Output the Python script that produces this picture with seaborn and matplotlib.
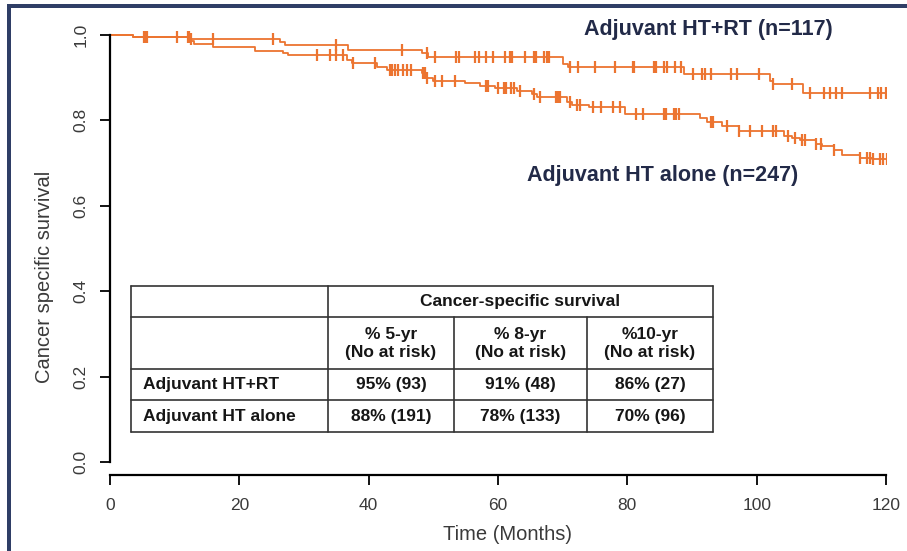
import numpy as np
import pandas as pd
import matplotlib
matplotlib.use("Agg")
import matplotlib.pyplot as plt
from matplotlib.patches import Rectangle
from matplotlib.lines import Line2D
import seaborn as sns

# ---------------- data ----------------
rt_times = [0, 3.5, 12.4, 26.3, 27.0, 36.8, 48.2, 49.2, 70.0, 70.8, 88.7, 102.0, 102.6, 107.2, 120]
rt_surv = [1.0, 0.995, 0.990, 0.983, 0.976, 0.966, 0.957, 0.948, 0.932, 0.924, 0.909, 0.893, 0.886, 0.863, 0.863]
rt_censor = [5.2, 5.5, 5.7, 12.2, 12.5, 15.9, 25.2, 35.0, 45.1, 49.0, 50.3, 53.5, 53.9, 56.5, 57.0,
             58.2, 59.3, 61.1, 61.8, 62.2, 64.2, 65.5, 65.9, 67.1, 67.5, 67.9, 71.1, 72.4, 75.0,
             78.1, 80.8, 81.1, 84.2, 84.5, 85.6, 86.1, 87.4, 88.3, 90.2, 91.5, 92.0, 93.0, 96.1,
             96.9, 100.3, 102.6, 105.5, 108.3, 110.4, 111.4, 112.2, 113.2, 117.5, 118.8, 119.3, 120.0]

ht_times = [0, 3.6, 12.4, 13.0, 16.0, 22.4, 26.8, 27.5, 36.6, 37.4, 41.3, 42.8, 48.2, 49.0, 50.0,
            54.9, 57.2, 59.5, 62.9, 65.2, 66.0, 70.6, 71.4, 74.0, 79.6, 91.3, 92.3, 94.6, 97.2,
            104.2, 105.5, 106.7, 109.1, 110.1, 111.9, 113.2, 116.0, 117.8, 120.3]
ht_surv = [1.0, 0.996, 0.985, 0.979, 0.971, 0.962, 0.957, 0.952, 0.941, 0.935, 0.926, 0.918, 0.910,
           0.899, 0.893, 0.887, 0.881, 0.875, 0.868, 0.861, 0.854, 0.844, 0.837, 0.831, 0.816,
           0.805, 0.797, 0.787, 0.775, 0.763, 0.758, 0.753, 0.744, 0.739, 0.731, 0.719, 0.713,
           0.709, 0.709]
ht_censor = [10.3, 12.1, 32.0, 34.0, 35.0, 36.1, 37.6, 41.0, 43.3, 43.6, 44.0, 44.6, 45.3, 45.9,
             46.6, 48.4, 48.7, 49.0, 50.3, 51.3, 53.3, 58.2, 58.5, 60.0, 60.9, 61.3, 62.0, 62.4,
             63.4, 65.5, 66.5, 69.0, 69.3, 69.6, 71.1, 72.2, 72.7, 74.7, 76.0, 77.8, 78.8, 81.4,
             82.4, 85.6, 86.0, 87.2, 87.6, 88.0, 93.0, 93.3, 95.4, 97.2, 99.0, 100.8, 102.5,
             103.0, 104.9, 106.0, 107.0, 107.4, 109.2, 110.0, 111.9, 116.0, 117.0, 117.5, 118.0,
             119.0, 119.5, 120.1]

group_labels = ["Adjuvant HT+RT (n=117)", "Adjuvant HT alone (n=247)"]
x_ticks = [0, 20, 40, 60, 80, 100, 120]
y_ticks = [0.0, 0.2, 0.4, 0.6, 0.8, 1.0]
x_label = "Time (Months)"
y_label = "Cancer specific survival"

table_header = "Cancer-specific survival"
table_cols = ["% 5-yr\n(No at risk)", "% 8-yr\n(No at risk)", "%10-yr\n(No at risk)"]
table_rows = ["Adjuvant HT+RT", "Adjuvant HT alone"]
table_vals = [["95% (93)", "91% (48)", "86% (27)"],
              ["88% (191)", "78% (133)", "70% (96)"]]

# ---------------- style ----------------
sns.set_style("white")
plt.rcParams["font.family"] = ["Liberation Sans", "DejaVu Sans"]

W, H = 907, 551
fig = plt.figure(figsize=(W / 100, H / 100), dpi=100)
ORANGE = "#EC7430"
NAVY = "#222A48"
TXT = "#3A3A3A"

ymin, ymax = -0.03, 1.04
ppu = 427.0
top_px = 35 - (ymax - 1.0) * ppu
bot_px = 462 + (0 - ymin) * ppu
ax = fig.add_axes([110 / W, (H - bot_px) / H, 776 / W, (bot_px - top_px) / H])

df = pd.concat([
    pd.DataFrame({"time": rt_times, "surv": rt_surv, "group": group_labels[0]}),
    pd.DataFrame({"time": ht_times, "surv": ht_surv, "group": group_labels[1]}),
])
sns.lineplot(data=df, x="time", y="surv", hue="group", palette=[ORANGE, ORANGE],
             drawstyle="steps-post", linewidth=1.3, legend=False, ax=ax, estimator=None)


def step_value(times, surv, t):
    idx = np.searchsorted(np.asarray(times), np.asarray(t), side="right") - 1
    return np.asarray(surv)[idx]


for times, surv, cens in [(rt_times, rt_surv, rt_censor), (ht_times, ht_surv, ht_censor)]:
    ax.plot(cens, step_value(times, surv, cens), linestyle="none", marker="|",
            markersize=8, markeredgewidth=1.6, color=ORANGE)

ax.set_xlim(0, 120)
ax.set_ylim(ymin, ymax)
ax.set_xticks(x_ticks)
ax.set_yticks(y_ticks)
ax.set_xticklabels([str(v) for v in x_ticks], fontsize=12.5, color=TXT)
ax.set_yticklabels([f"{v:.1f}" for v in y_ticks], fontsize=12.5, color=TXT,
                   rotation=90, va="center")
for s in ["top", "right"]:
    ax.spines[s].set_visible(False)
ax.spines["left"].set_bounds(0, 1)
ax.spines["bottom"].set_bounds(0, 120)
for s in ["left", "bottom"]:
    ax.spines[s].set_linewidth(1.6)
    ax.spines[s].set_color("black")
ax.tick_params(axis="both", direction="out", length=7.5, width=1.3, color="black",
               left=True, bottom=True)
ax.tick_params(axis="x", pad=9)
ax.tick_params(axis="y", pad=8)
ax.set_xlabel(x_label, fontsize=14.5, color=TXT)
ax.set_ylabel(y_label, fontsize=14.5, color=TXT)
ax.xaxis.set_label_coords(0.512, (bot_px - 535) / (bot_px - top_px))
ax.xaxis.label.set_va("center")
ax.yaxis.set_label_coords((45 - 110) / 776, (bot_px - 277) / (bot_px - top_px))
ax.yaxis.label.set_va("center")

# group annotations
ax.text(92.6, 1.012, group_labels[0], ha="center", va="center",
        fontsize=15.5, fontweight="bold", color=NAVY)
ax.text(85.5, 0.672, group_labels[1], ha="center", va="center",
        fontsize=15.5, fontweight="bold", color=NAVY)


# ---------------- table (pixel layout) ----------------
def fx(px):
    return px / W


def fy(py):
    return 1 - py / H


xL, xR = 131, 713
xc = [131, 328, 454, 587, 713]
yr = [286, 317, 369, 400, 432]
lw = 1.2
lines = [
    (xL, xR, yr[0], yr[0]), (xL, xR, yr[1], yr[1]), (xL, xR, yr[2], yr[2]),
    (xL, xR, yr[3], yr[3]), (xL, xR, yr[4], yr[4]),
    (xc[0], xc[0], yr[0], yr[4]), (xc[1], xc[1], yr[0], yr[4]),
    (xc[2], xc[2], yr[1], yr[4]), (xc[3], xc[3], yr[1], yr[4]),
    (xc[4], xc[4], yr[0], yr[4]),
]
for x0, x1, y0, y1 in lines:
    fig.add_artist(Line2D([fx(x0), fx(x1)], [fy(y0), fy(y1)], color="#333333", lw=lw))

tfs = 12.5
TCOL = "#161616"
fig.text(fx((xc[1] + xc[4]) / 2), fy((yr[0] + yr[1]) / 2), table_header, ha="center",
         va="center", fontsize=tfs, fontweight="bold", color=TCOL)
for j, c in enumerate(table_cols):
    fig.text(fx((xc[j + 1] + xc[j + 2]) / 2), fy((yr[1] + yr[2]) / 2), c, ha="center",
             va="center", fontsize=tfs, fontweight="bold", color=TCOL, linespacing=1.25)
for i, r in enumerate(table_rows):
    yc = fy((yr[i + 2] + yr[i + 3]) / 2)
    fig.text(fx(xc[0] + 12), yc, r, ha="left", va="center", fontsize=tfs,
             fontweight="bold", color=TCOL)
    for j, v in enumerate(table_vals[i]):
        fig.text(fx((xc[j + 1] + xc[j + 2]) / 2), yc, v, ha="center", va="center",
                 fontsize=tfs, fontweight="bold", color=TCOL)

# frame border (top and left)
BORDER = "#2F3E66"
fig.add_artist(Rectangle((fx(7), fy(8)), fx(900), 4 / H, transform=fig.transFigure,
                         color=BORDER, lw=0))
fig.add_artist(Rectangle((fx(7), 0), fx(4), fy(4), transform=fig.transFigure,
                         color=BORDER, lw=0))

fig.savefig("out.png", dpi=100)
